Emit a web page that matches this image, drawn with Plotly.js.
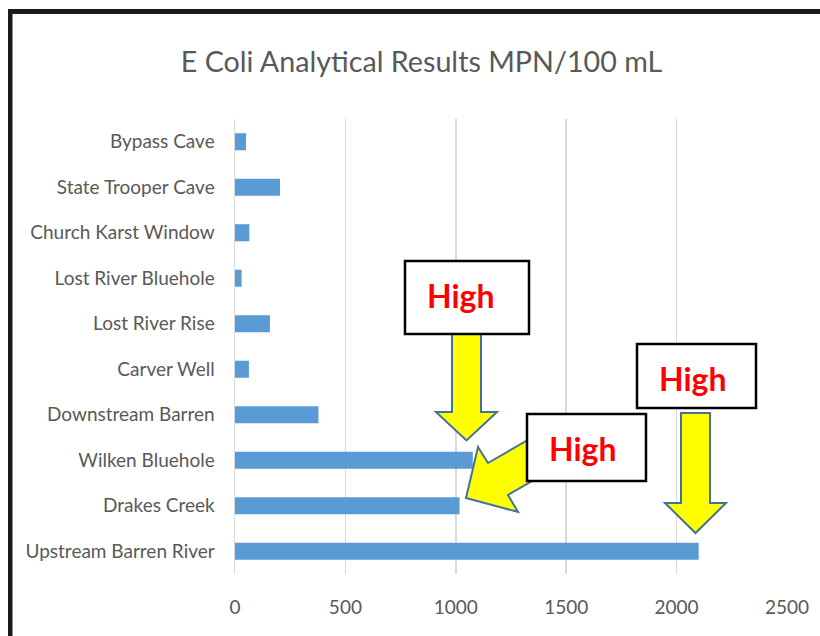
<!DOCTYPE html>
<html>
<head>
<meta charset="utf-8">
<script src="https://cdn.plot.ly/plotly-3.0.1.min.js"></script>
<style>
  html, body { margin: 0; padding: 0; background: #ffffff; }
  #chart { width: 820px; height: 636px; }
</style>
</head>
<body>
<div id="chart"></div>
<script>
// ---- data (bottom to top, as in the source sheet) ----
var sites = [
  "Upstream Barren River",
  "Drakes Creek",
  "Wilken Bluehole",
  "Downstream Barren",
  "Carver Well",
  "Lost River Rise",
  "Lost River Bluehole",
  "Church Karst Window",
  "State Trooper Cave",
  "Bypass Cave"
];
var ecoliMPN = [2100, 1017, 1077, 378, 63, 158, 30, 65, 204, 50];
var xTicks = [0, 500, 1000, 1500, 2000, 2500];
var chartTitle = "E Coli Analytical Results MPN/100 mL";
var calloutText = "High";

// ---- layout geometry ----
var W = 820, H = 636;
var M = { l: 235, r: 33, t: 119, b: 62 };
var PW = W - M.l - M.r, PH = H - M.t - M.b;
function px(x) { return (x - M.l) / PW; }
function py(y) { return (H - M.b - y) / PH; }
function path(pts) {
  return pts.map(function (p, i) {
    return (i ? "L" : "M") + px(p[0]).toFixed(5) + "," + py(p[1]).toFixed(5);
  }).join(" ") + " Z";
}
function rect(x0, y0, x1, y1, extra) {
  var s = { type: "rect", xref: "paper", yref: "paper",
    x0: px(x0), x1: px(x1), y0: py(y1), y1: py(y0) };
  for (var k in extra) s[k] = extra[k];
  return s;
}

var labelFont = "Lato, 'Open Sans', sans-serif";
var arrowStyle = { fillcolor: "#FFFF00", line: { color: "#41719C", width: 2 } };
function arrow(pts) {
  return { type: "path", xref: "paper", yref: "paper", path: path(pts),
    fillcolor: arrowStyle.fillcolor, line: arrowStyle.line, layer: "above" };
}
var boxStyle = { fillcolor: "#FFFFFF", line: { color: "#000000", width: 2.5 }, layer: "above" };

var shapes = [
  // outer frame (top and left edges)
  rect(8, 9, 840, 14, { fillcolor: "#1a1a1a", line: { width: 0 }, layer: "above" }),
  rect(8, 9, 12.5, 700, { fillcolor: "#1a1a1a", line: { width: 0 }, layer: "above" }),
  // arrows
  arrow([[452, 334], [481, 334], [481, 412], [497, 412], [466.5, 440.5], [436, 412], [452, 412]]),
  arrow([[681, 413], [710, 413], [710, 503], [726, 503], [695.5, 533], [665, 503], [681, 503]]),
  arrow([[466, 498], [478, 447], [488, 463], [540, 433], [560, 465], [508, 495], [518, 512]]),
  // callout boxes
  rect(405, 261, 529, 334, boxStyle),
  rect(637, 344, 756, 408, boxStyle),
  rect(527, 414, 646, 481, boxStyle)
];

function callout(x, y) {
  return { xref: "paper", yref: "paper", x: px(x), y: py(y), xanchor: "center", yanchor: "middle",
    text: calloutText, showarrow: false,
    font: { family: labelFont, size: 32, color: "#FF0000", weight: "bold" } };
}
var annotations = [
  callout(461, 295),
  callout(692.5, 378),
  callout(582.5, 448.5)
];

var trace = {
  type: "bar",
  orientation: "h",
  x: ecoliMPN,
  y: sites,
  marker: { color: "#5B9BD5" },
  hoverinfo: "none"
};

var layout = {
  width: W, height: H,
  margin: { l: M.l, r: M.r, t: M.t, b: M.b, pad: 0 },
  paper_bgcolor: "#FFFFFF",
  plot_bgcolor: "#FFFFFF",
  showlegend: false,
  bargap: 0.625,
  title: {
    text: chartTitle,
    xref: "container", yref: "container",
    x: 421.5 / W, y: 1 - 62 / H, xanchor: "center", yanchor: "middle",
    font: { family: labelFont, size: 28.7, color: "#595959" }
  },
  xaxis: {
    range: [0, 2500],
    tickmode: "array",
    tickvals: xTicks,
    ticktext: xTicks.map(String),
    showgrid: true, gridcolor: "#D9D9D9", gridwidth: 1.5,
    zeroline: false, showline: false, ticks: "",
    ticklabelstandoff: 20,
    tickfont: { family: labelFont, size: 19, color: "#595959" },
    fixedrange: true
  },
  yaxis: {
    type: "category",
    categoryorder: "array",
    categoryarray: sites,
    showgrid: false, zeroline: false,
    showline: true, linecolor: "#D9D9D9", linewidth: 1.5,
    ticks: "",
    ticklabelstandoff: 15,
    tickfont: { family: labelFont, size: 19, color: "#595959" },
    automargin: false,
    fixedrange: true
  },
  shapes: shapes,
  annotations: annotations
};

Plotly.newPlot("chart", [trace], layout, { displayModeBar: false, staticPlot: true });
</script>
</body>
</html>
